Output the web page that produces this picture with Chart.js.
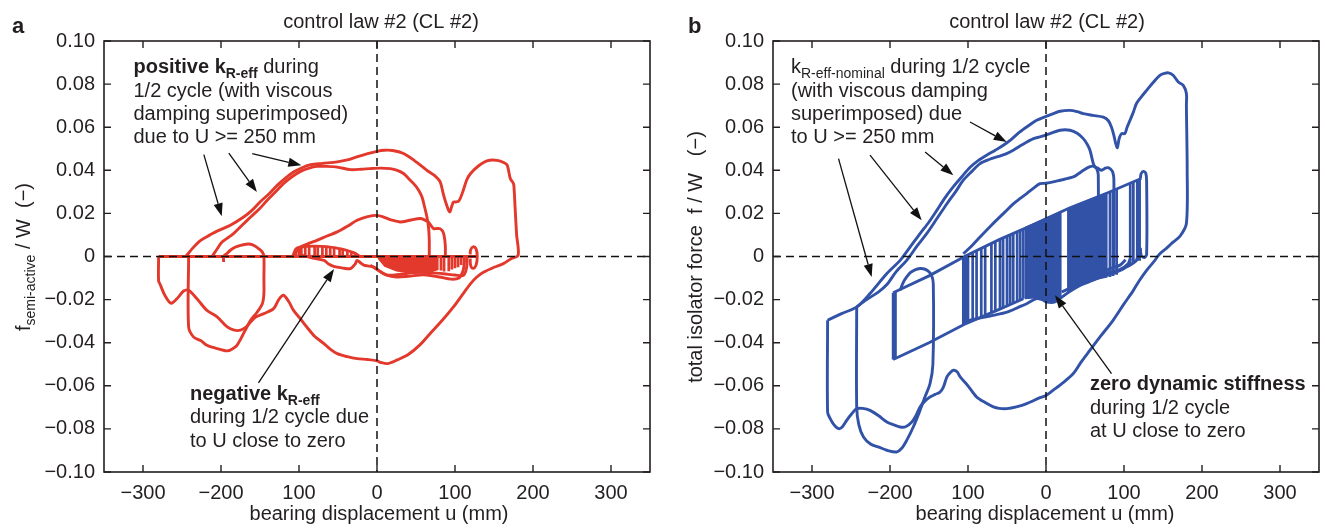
<!DOCTYPE html>
<html><head><meta charset="utf-8">
<script src="https://cdn.jsdelivr.net/npm/chart.js@4/dist/chart.umd.min.js"></script>
<style>
html,body{margin:0;padding:0;background:#fff;width:1325px;height:529px;overflow:hidden}
.p{position:absolute;top:0;height:529px}
#wa{left:0;width:662px}#wb{left:662px;width:663px}
canvas{display:block}
</style></head><body>
<div class="p" id="wa"><canvas id="ca"></canvas></div>
<div class="p" id="wb"><canvas id="cb"></canvas></div>
<script>
// ---------- axes ----------
const xTickValues = [-300,-200,-100,0,100,200,300];
const xTickLabels = ['\u2212300','\u2212200','100','0','100','200','300'];
const yTickValues = [-0.1,-0.08,-0.06,-0.04,-0.02,0,0.02,0.04,0.06,0.08,0.1];
const yTickLabels = ['\u22120.10','\u22120.08','\u22120.06','\u22120.04','\u22120.02','0','0.02','0.04','0.06','0.08','0.10'];

// ---------- panel a : semi-active force (red) ----------
const redZeroLine = [[-280,0],[128,0]];
const redOuter = [[-245,0],[-236,0.004],[-226,0.0075],[-215,0.0098],[-205,0.0118],[-188,0.0145],[-171,0.0183],[-160,0.0215],[-150,0.0253],[-138,0.0292],[-128,0.033],[-117,0.0365],[-107,0.0392],[-96,0.0412],[-85,0.0426],[-70,0.0432],[-51,0.0439],[-38,0.0448],[-26,0.0462],[-12,0.0477],[0,0.0488],[9,0.0493],[20,0.0492],[34,0.0478],[48,0.0445],[64,0.040],[74,0.0375],[81,0.0346],[85,0.029],[88,0.0253],[93,0.0207],[96,0.0235],[98,0.0253],[101,0.0253],[105,0.0258],[110,0.030],[115,0.0355],[120,0.0385],[130,0.042],[142,0.0445],[154,0.0446],[163,0.0435],[167,0.0423],[171,0.0361],[175,0.0338],[176,0.030],[177,0.023],[179,0.010],[181,0.0006],[172,-0.001],[162,-0.0033],[150,-0.005],[137,-0.0072],[128,-0.0095],[120,-0.0126],[110,-0.0175],[98,-0.0234],[84,-0.0295],[68,-0.0358],[55,-0.041],[40,-0.0455],[26,-0.048],[14,-0.0497],[5,-0.0492],[0,-0.0484],[-12,-0.0478],[-25.6,-0.0474],[-38,-0.0465],[-51,-0.0451],[-60,-0.043],[-68,-0.0404],[-80,-0.037],[-90,-0.0327],[-98,-0.029],[-107,-0.025],[-113,-0.021],[-120,-0.018],[-126,-0.020],[-132.6,-0.0242],[-145,-0.0265],[-155,-0.028],[-162,-0.0304],[-168,-0.0328],[-175,-0.0342],[-183,-0.0342],[-192,-0.0327],[-205,-0.028],[-218,-0.025],[-230,-0.020],[-241.5,-0.0157],[-248,-0.016],[-255,-0.019],[-264,-0.0217],[-272,-0.018],[-278,-0.013],[-280,-0.0113],[-280,0]];
const redSecond = [[-211.5,0],[-205,0.0035],[-198.7,0.0067],[-190,0.009],[-184,0.0106],[-173,0.0145],[-162,0.0183],[-151,0.022],[-141,0.026],[-130,0.030],[-120,0.0338],[-109,0.037],[-98,0.0395],[-87,0.041],[-77,0.0418],[-64,0.0418],[-51,0.0415],[-34,0.0403],[-20,0.0405],[-8.6,0.0408],[5,0.041],[17,0.0408],[26,0.040],[34,0.0385],[41,0.036],[47,0.0338],[53,0.031],[57.7,0.0276],[61,0.023],[64,0.0183],[66,0.0137],[67,0.008],[67,0]];
const redThird = [[-107,0],[-103,0.0025],[-98,0.0044],[-88,0.006],[-77,0.0075],[-64,0.0095],[-51,0.0114],[-38,0.014],[-25.6,0.0168],[-12,0.0185],[0,0.0191],[8.5,0.0183],[18,0.017],[30,0.016],[42,0.0168],[55.5,0.0176],[62,0.0168],[66,0.016],[70,0.014],[72.6,0.0129],[77,0.013],[81,0.0129],[84,0.0118],[86,0.0098],[87.6,0.005],[87.6,0]];
const redHumpLoop = [[-196.6,-0.0025],[-196.6,0],[-192,0.0015],[-188,0.0029],[-182,0.0043],[-175,0.0052],[-168,0.0057],[-162,0.0057],[-156,0.0048],[-152,0.0037],[-147,0.002],[-145,0],[-145,-0.01],[-145,-0.0172],[-147,-0.0219],[-154,-0.026],[-162,-0.0296],[-170,-0.035],[-179.5,-0.0412],[-186,-0.043],[-192,-0.0438],[-200,-0.0432],[-210,-0.0422],[-218,-0.0412],[-226,-0.039],[-235,-0.0374],[-241.5,-0.0327],[-241.5,0]];
const redNegA = [[-100,0.001],[-85,-0.0005],[-68,-0.0018],[-62,-0.0035],[-55.6,-0.0046],[-45,-0.0053],[-34,-0.0056],[-28,-0.0035],[-25.6,-0.0018],[-21,-0.003],[-17,-0.004],[-10,-0.0045],[-4,-0.0049],[2,-0.0065],[8.5,-0.008],[15,-0.0087],[25,-0.0085],[40,-0.0078],[55.5,-0.0072],[70,-0.0076],[85,-0.008],[100,-0.0086],[111,-0.0087],[115,-0.0049],[115.5,0]];
const redNegB = [[-8.6,-0.0041],[0,-0.006],[12.8,-0.0087],[25,-0.0095],[40,-0.0092],[60,-0.0085],[80,-0.0095],[95,-0.0105],[105,-0.01],[110,-0.007],[112,-0.003],[112,0]];
const redSmallLoop = [[119.5,0.001],[120,0.003],[123,0.0045],[127,0.0035],[128.5,0],[127,-0.004],[123,-0.0055],[120,-0.004],[119.5,-0.001]];
const redCombTop = [[-108,0],[-104,0.0035],[-95,0.0045],[-80,0.0048],[-65,0.0046],[-50,0.0038],[-40,0.003],[-30,0.0018],[-22,0]];
const redCombBars = [[-104,0.0035,0],[-100,0.004,0],[-97,0.0042,0],[-92,0.0045,0],[-87,0.0046,0],[-80,0.0048,0],[-76,0.0048,0],[-70,0.0047,0],[-65,0.0046,0],[-60,0.0044,0],[-55,0.0042,0],[-48,0.0038,0],[-44,0.0035,0],[-38,0.003,0],[-33,0.0024,0],[-28,0.0018,0]];
const redDenseFill = [[2,0],[78,0],[78,-0.006],[65,-0.0075],[45,-0.0076],[25,-0.0066],[10,-0.0045],[2,-0.001]];
const redBelowBars = [[82,0,-0.0065],[86,0,-0.007],[92,0,-0.0068],[96,0,-0.006],[100,0,-0.0055],[104,0,-0.005],[108,0,-0.004]];
const redArrows = [[[-222,0.0473],[-199,0.0187]],[[-190,0.048],[-154,0.0299]],[[-160,0.0477],[-97,0.0423]],[[-152,-0.0586],[-55,-0.0058]]];

// ---------- panel b : total isolator force (blue) ----------
const blueOuter = [[-280,-0.0296],[-262,-0.0265],[-242.7,-0.0234],[-225.6,-0.0172],[-204,-0.0079],[-187,-0.0018],[-175,0.004],[-161.5,0.0106],[-150,0.016],[-140,0.0214],[-130,0.027],[-119,0.0323],[-108,0.037],[-97,0.0415],[-87,0.0445],[-76,0.047],[-65,0.0493],[-54.7,0.0516],[-44,0.0545],[-33.6,0.0578],[-22,0.0608],[-12,0.0632],[0,0.065],[9.4,0.0663],[18,0.0674],[30.8,0.0678],[40,0.0672],[47.8,0.0663],[60,0.0655],[73.5,0.0647],[80,0.063],[84,0.060],[87,0.0562],[89,0.053],[91.4,0.0505],[94,0.055],[97,0.057],[101,0.057],[104,0.060],[107.7,0.0632],[112,0.067],[116,0.071],[122,0.074],[129,0.0771],[138,0.081],[146,0.0841],[152,0.085],[157,0.0852],[163,0.0841],[169.6,0.081],[176,0.0794],[180,0.0756],[180,0.07],[181,0.04],[180,0.0153],[172,0.0095],[163,0.0067],[155,0.004],[146,0.0013],[138,-0.0025],[129,-0.0064],[120,-0.011],[112,-0.0157],[100,-0.022],[86,-0.0296],[70,-0.037],[56.4,-0.0435],[45,-0.049],[35,-0.0543],[22,-0.0585],[9.4,-0.062],[0,-0.0645],[-7.7,-0.0655],[-24.7,-0.0683],[-38,-0.0698],[-50,-0.0706],[-60,-0.0705],[-67.5,-0.0698],[-78,-0.0678],[-89,-0.0652],[-100,-0.060],[-110,-0.0559],[-114,-0.0535],[-118.8,-0.0528],[-123,-0.054],[-127,-0.0559],[-132,-0.061],[-136,-0.0629],[-142,-0.064],[-148.7,-0.0652],[-155,-0.067],[-161.5,-0.0698],[-167,-0.074],[-172,-0.0768],[-180,-0.079],[-187,-0.0791],[-196,-0.078],[-204,-0.0768],[-215,-0.0738],[-225.6,-0.0714],[-235,-0.0705],[-242.7,-0.0706],[-249,-0.073],[-255.5,-0.076],[-261,-0.079],[-266,-0.0799],[-272,-0.078],[-277,-0.075],[-280,-0.0722],[-280,-0.0296]];
const blueSecond = [[-242.7,-0.0234],[-230,-0.020],[-215,-0.0165],[-204,-0.013],[-192,-0.007],[-178.6,-0.0018],[-165,0.005],[-153,0.0106],[-140,0.0175],[-127,0.0245],[-116,0.030],[-106,0.0354],[-95,0.0395],[-84.6,0.0431],[-73,0.045],[-63,0.0462],[-52,0.0475],[-42,0.0493],[-30,0.052],[-16,0.0547],[-7.7,0.0555],[5,0.057],[18,0.0586],[30.8,0.0586],[40,0.0572],[47.8,0.0547],[53,0.052],[56.4,0.0493],[60.7,0.0431],[63,0.0415],[65,0.0408],[67,0.038],[67,-0.008]];
const blueThird = [[-106,0.0013],[-95,0.005],[-84.6,0.009],[-70,0.0145],[-54.7,0.0199],[-40,0.025],[-24.7,0.0292],[-15,0.032],[-7.7,0.0338],[0,0.034],[18,0.0354],[35,0.0369],[42,0.0385],[47.8,0.040],[55,0.0415],[60.7,0.0419],[66,0.041],[71.4,0.040],[76,0.041],[79.9,0.0412],[83,0.0405],[85.5,0.0392],[87,0.036],[87,-0.006]];
const blueLowLoop = [[-242.7,-0.0234],[-242.7,-0.0698],[-240,-0.078],[-234,-0.0838],[-225,-0.087],[-214,-0.0885],[-204,-0.0899],[-191.5,-0.0907],[-185,-0.089],[-178.6,-0.0853],[-170,-0.079],[-161.5,-0.0714],[-155,-0.065],[-148.7,-0.059],[-145,-0.05],[-144.5,-0.0126],[-147,-0.0085],[-151,-0.0068],[-156,-0.0058],[-161.5,-0.0056],[-168,-0.0062],[-174,-0.0075],[-178.6,-0.0095],[-183,-0.012],[-187,-0.0157]];
const blueBandTop = [[-196,-0.0168],[-150,-0.009],[-102,0.0005],[-60,0.0078],[-16,0.0148],[30,0.0225],[80,0.0297],[122,0.0362]];
const blueBandBottom = [[-196,-0.0478],[-150,-0.040],[-102,-0.031],[-60,-0.0245],[-29,-0.0196]];
const blueBandBars = [[-196,-0.0168,-0.0478],[-193,-0.0163,-0.0474],[-106,-0.0002,-0.0315],[-103,0.0003,-0.031],[-100,0.0008,-0.0305],[-94,0.0017,-0.0295],[-89,0.0026,-0.0285],[-83,0.0035,-0.0277],[-78,0.0044,-0.027],[-70,0.0058,-0.0258],[-65,0.0066,-0.025],[-59,0.0076,-0.0242],[-55,0.0083,-0.0235],[-50,0.0091,-0.0228],[-46,0.0097,-0.022],[-42,0.0104,-0.0215],[-37,0.0112,-0.0208],[-33,0.0118,-0.0202],[-29,0.0125,-0.0196],[82,0.0299,-0.0095],[86,0.0305,-0.009],[90.6,0.0312,-0.0085],[108,0.0338,-0.004],[112,0.0344,-0.003],[117,0.0352,-0.002],[120,0.0357,-0.002]];
const blueDenseA = [[-26,0.0135],[19,0.0208],[19,-0.0195],[10,-0.0205],[0,-0.0205],[-10,-0.019],[-26,-0.0195]];
const blueDenseB = [[28,0.0222],[78,0.0293],[78,-0.0095],[65,-0.0105],[45,-0.0132],[28,-0.0165]];
const blueSmallLoop = [[121,0.0362],[122,0.0385],[125,0.0395],[128,0.0385],[129,0.035],[129,0.001],[126,-0.0005],[122,0.0005],[121,0.004]];
const blueLowerA = [[-106,-0.0304],[-90,-0.029],[-67.5,-0.0273],[-50,-0.0258],[-35,-0.0235],[-24.7,-0.0219],[-18,-0.0205],[-12,-0.0195],[-5,-0.02],[1,-0.0211],[11.5,-0.0211],[20,-0.019],[26.5,-0.0172],[35,-0.0152],[43.6,-0.0134],[55,-0.0118],[65,-0.0103],[75,-0.009],[86,-0.0079],[95,-0.0065],[103,-0.0049],[110,-0.0035],[116,-0.0018],[118,0.001]];
const blueLowerB = [[20,-0.0165],[35,-0.014],[50,-0.0118],[65,-0.0095],[80,-0.0075],[95,-0.006],[105,-0.0035],[108,-0.001]];
const blueLowerC = [[40,-0.012],[60,-0.0095],[80,-0.006],[95,-0.004],[102,-0.0015]];
const blueArrows = [[[-97.4,0.0624],[-50.4,0.0531]],[[-155,0.0485],[-118.8,0.0377]],[[-225.6,0.047],[-159.4,0.0168]],[[-266,0.0454],[-223.5,-0.0095]],[[84,-0.0543],[11.5,-0.018]]];

// ---------- drawing helpers ----------
const FONT = '"Liberation Sans", Arial, Helvetica, sans-serif';
const INK = '#231f20';
const RED = '#e2392c';
const BLUE = '#3152a7';

function pts(arr){ return arr.map(p => ({x:p[0], y:p[1]})); }
function curve(arr, color, extra){
  return Object.assign({data: pts(arr), showLine:true, borderColor:color, backgroundColor:color,
    borderWidth:2.9, pointRadius:0, pointHoverRadius:0, tension:0.3, fill:false, order:1}, extra||{});
}
function bars(triples, color){
  const d = [];
  triples.forEach(t => { d.push({x:t[0], y:t[1]}); d.push({x:t[0], y:t[2]}); d.push({x:t[0], y:null}); });
  return {data:d, showLine:true, spanGaps:false, borderColor:color, backgroundColor:color,
    borderWidth:2.7, pointRadius:0, tension:0, fill:false, order:1};
}
function poly(arr, color){
  return {data: pts(arr.concat([arr[0]])), showLine:true, borderColor:color, backgroundColor:color,
    borderWidth:1.5, pointRadius:0, tension:0, fill:'shape', order:2};
}

function richWidth(ctx, parts){
  let w = 0;
  parts.forEach(p => { ctx.font = (p.b?'bold ':'') + (p.s?14:20) + 'px ' + FONT; w += ctx.measureText(p.t).width; });
  return w;
}
function drawRich(ctx, x, y, parts){
  let cx = x;
  parts.forEach(p => {
    ctx.font = (p.b?'bold ':'') + (p.s?14:20) + 'px ' + FONT;
    ctx.fillText(p.t, cx, y + (p.s?5:0));
    cx += ctx.measureText(p.t).width;
  });
}
function arrow(ctx, x1, y1, x2, y2){
  const a = Math.atan2(y2-y1, x2-x1), L = 13, W = 4.6;
  const bx = x2 - L*Math.cos(a), by = y2 - L*Math.sin(a);
  ctx.beginPath(); ctx.moveTo(x1,y1); ctx.lineTo(bx,by); ctx.stroke();
  ctx.beginPath(); ctx.moveTo(x2,y2);
  ctx.lineTo(bx + W*Math.sin(a), by - W*Math.cos(a));
  ctx.lineTo(bx - W*Math.sin(a), by + W*Math.cos(a));
  ctx.closePath(); ctx.fill();
}

function decorPlugin(P){
  return {
    id: 'decor',
    afterDatasetsDraw(chart){
      const ctx = chart.ctx, a = chart.chartArea, xs = chart.scales.x, ys = chart.scales.y;
      ctx.save();
      ctx.beginPath(); ctx.rect(a.left, a.top, a.right-a.left, a.bottom-a.top); ctx.clip();
      ctx.strokeStyle = '#111'; ctx.lineWidth = 1.5; ctx.setLineDash([8,5]);
      const x0 = xs.getPixelForValue(0), y0 = ys.getPixelForValue(0);
      ctx.beginPath(); ctx.moveTo(a.left, y0); ctx.lineTo(a.right, y0); ctx.stroke();
      ctx.beginPath(); ctx.moveTo(x0, a.top); ctx.lineTo(x0, a.bottom); ctx.stroke();
      ctx.setLineDash([]);
      ctx.restore();
      ctx.save();
      ctx.strokeStyle = INK; ctx.lineWidth = 1.6;
      ctx.strokeRect(a.left, a.top, a.right-a.left, a.bottom-a.top);
      ctx.lineWidth = 1.4;
      const T = 7;
      xTickValues.forEach(v => { const px = xs.getPixelForValue(v);
        ctx.beginPath(); ctx.moveTo(px, a.bottom); ctx.lineTo(px, a.bottom-T);
        ctx.moveTo(px, a.top); ctx.lineTo(px, a.top+T); ctx.stroke(); });
      yTickValues.forEach(v => { const py = ys.getPixelForValue(v);
        ctx.beginPath(); ctx.moveTo(a.left, py); ctx.lineTo(a.left+T, py);
        ctx.moveTo(a.right, py); ctx.lineTo(a.right-T, py); ctx.stroke(); });
      ctx.strokeStyle = '#111'; ctx.fillStyle = '#111'; ctx.lineWidth = 1.3;
      P.arrows.forEach(ar => arrow(ctx, xs.getPixelForValue(ar[0][0]), ys.getPixelForValue(ar[0][1]),
                                        xs.getPixelForValue(ar[1][0]), ys.getPixelForValue(ar[1][1])));
      ctx.fillStyle = INK; ctx.textAlign = 'left'; ctx.textBaseline = 'alphabetic';
      P.texts.forEach(t => drawRich(ctx, t.x, t.y, t.parts));
      ctx.font = '20px ' + FONT; ctx.textAlign = 'center';
      ctx.fillText(P.title, P.titleX, 28);
      ctx.fillText(P.xTitle, P.xTitleX, 520);
      ctx.font = 'bold 22px ' + FONT; ctx.textAlign = 'left';
      ctx.fillText(P.letter, P.letterX, 32.5);
      ctx.save();
      ctx.translate(P.yTitleX, 257);
      ctx.rotate(-Math.PI/2);
      const w = richWidth(ctx, P.yTitle);
      drawRich(ctx, -w/2, 0, P.yTitle);
      ctx.restore();
      ctx.restore();
    }
  };
}

function makeChart(P){
  return new Chart(document.getElementById(P.canvas), {
    type: 'scatter',
    data: { datasets: P.datasets },
    options: {
      responsive: true, maintainAspectRatio: false, animation: false, devicePixelRatio: 1,
      layout: { padding: { left: 0, right: P.padRight, top: 41, bottom: 0 } },
      plugins: { legend: {display:false}, tooltip: {enabled:false}, title: {display:false} },
      events: [],
      scales: {
        x: { type:'linear', min:-350, max:350,
          grid:{display:false, drawTicks:false}, border:{display:false},
          afterBuildTicks: s => { s.ticks = xTickValues.map(v => ({value:v})); },
          afterFit: s => { s.height = 57; },
          ticks: { autoSkip:false, maxRotation:0, padding:9, color:INK, font:{family:FONT, size:20},
            callback: (v, i) => xTickLabels[i] } },
        y: { type:'linear', min:-0.1, max:0.1,
          grid:{display:false, drawTicks:false}, border:{display:false},
          afterBuildTicks: s => { s.ticks = yTickValues.map(v => ({value:v})); },
          afterFit: s => { s.width = P.yWidth; },
          ticks: { autoSkip:false, padding:9, color:INK, font:{family:FONT, size:20},
            callback: (v, i) => yTickLabels[i] } }
      }
    },
    plugins: [decorPlugin(P)]
  });
}

makeChart({
  canvas:'ca', padRight:12, yWidth:104,
  title:'control law #2 (CL #2)', titleX:381, xTitle:'bearing displacement u (mm)', xTitleX:379,
  letter:'a', letterX:12, yTitleX:30,
  yTitle:[{t:'f'},{t:'semi-active', s:1},{t:' / W  (\u2212)'}],
  arrows: redArrows,
  texts: [
    {x:133.5, y:73.3, parts:[{t:'positive k', b:1},{t:'R-eff', b:1, s:1},{t:' during'}]},
    {x:133.5, y:96.7, parts:[{t:'1/2 cycle (with viscous'}]},
    {x:133.5, y:120, parts:[{t:'damping superimposed)'}]},
    {x:133.5, y:143.3, parts:[{t:'due to U >= 250 mm'}]},
    {x:190, y:399.5, parts:[{t:'negative k', b:1},{t:'R-eff', b:1, s:1}]},
    {x:190, y:423, parts:[{t:'during 1/2 cycle due'}]},
    {x:190, y:446.7, parts:[{t:'to U close to zero'}]}
  ],
  datasets: [
    poly(redDenseFill, RED),
    curve(redZeroLine, RED, {tension:0}),
    curve(redOuter, RED),
    curve(redSecond, RED),
    curve(redThird, RED),
    curve(redHumpLoop, RED),
    curve(redNegA, RED),
    curve(redNegB, RED),
    curve(redSmallLoop, RED, {tension:0.4}),
    curve(redCombTop, RED, {tension:0.2}),
    bars(redCombBars, RED),
    bars(redBelowBars, RED)
  ]
});

makeChart({
  canvas:'cb', padRight:6, yWidth:111,
  title:'control law #2 (CL #2)', titleX:385, xTitle:'bearing displacement u (mm)', xTitleX:383,
  letter:'b', letterX:26, yTitleX:40,
  yTitle:[{t:'total isolator force  f / W   (\u2212)'}],
  arrows: blueArrows,
  texts: [
    {x:129, y:73.3, parts:[{t:'k'},{t:'R-eff-nominal', s:1},{t:' during 1/2 cycle'}]},
    {x:129, y:96.7, parts:[{t:'(with viscous damping'}]},
    {x:129, y:120, parts:[{t:'superimposed) due'}]},
    {x:129, y:143.3, parts:[{t:'to U >= 250 mm'}]},
    {x:428, y:390, parts:[{t:'zero dynamic stiffness', b:1}]},
    {x:428, y:413.5, parts:[{t:'during 1/2 cycle'}]},
    {x:428, y:437, parts:[{t:'at U close to zero'}]}
  ],
  datasets: [
    poly(blueDenseA, BLUE),
    poly(blueDenseB, BLUE),
    curve(blueOuter, BLUE),
    curve(blueSecond, BLUE),
    curve(blueThird, BLUE),
    curve(blueLowLoop, BLUE),
    curve(blueBandTop, BLUE, {tension:0}),
    curve(blueBandBottom, BLUE, {tension:0}),
    bars(blueBandBars, BLUE),
    curve(blueSmallLoop, BLUE, {tension:0.3}),
    curve(blueLowerA, BLUE),
    curve(blueLowerB, BLUE),
    curve(blueLowerC, BLUE)
  ]
});
</script>
</body></html>
